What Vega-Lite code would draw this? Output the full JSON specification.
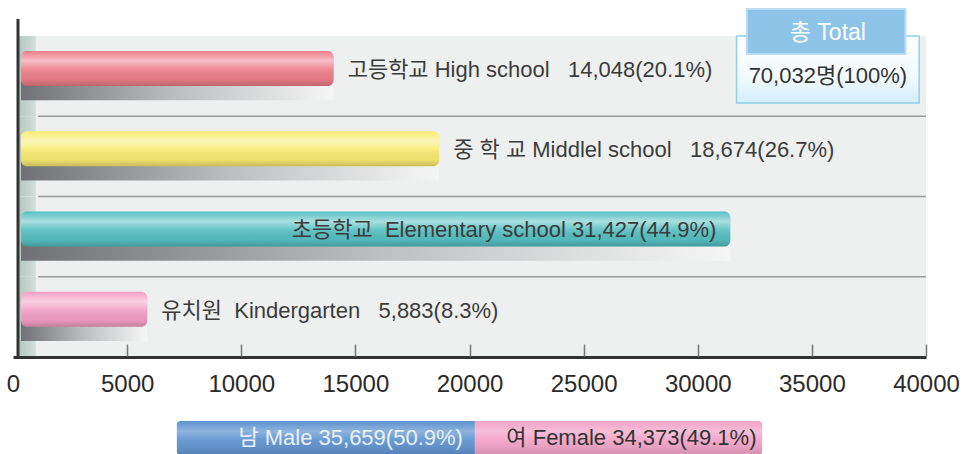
{
  "$schema": "https://vega.github.io/schema/vega-lite/v6.json",
  "padding": {"left": 6, "top": 8, "right": 0, "bottom": 0},
  "background": "white",
  "center": true,
  "bounds": "flush",
  "spacing": 64,
  "resolve": {"scale": {"color": "independent"}},
  "config": {"view": {"stroke": null}, "font": "Liberation Sans, Noto Sans CJK KR"},
  "datasets": {
    "school": [
      {"cat": "고등학교", "label": "고등학교 High school\u00a0\u00a0 14,048(20.1%)", "value": 14048},
      {"cat": "중학교", "label": "중 학 교 Middlel school\u00a0\u00a0 18,674(26.7%)", "value": 18674},
      {"cat": "초등학교", "label": "초등학교\u00a0\u00a0Elementary school 31,427(44.9%)", "value": 31427},
      {"cat": "유치원", "label": "유치원\u00a0\u00a0Kindergarten\u00a0\u00a0 5,883(8.3%)", "value": 5883}
    ],
    "gender": [
      {"g": "남 Male", "label": "남 Male 35,659(50.9%)", "value": 35659, "ord": 1},
      {"g": "여 Female", "label": "여 Female 34,373(49.1%)", "value": 34373, "ord": 2}
    ],
    "total": [
      {"cat": "고등학교", "head": "총 Total", "label": "70,032명(100%)", "value": 70032}
    ]
  },
  "vconcat": [
    {
      "width": 913,
      "height": 338,
      "resolve": {"axis": {"x": "independent"}},
      "layer": [
        {
          "data": {"name": "school"},
          "mark": {"type": "bar", "color": "#eeefef", "height": {"band": 1}},
          "encoding": {
            "y": {"field": "cat", "type": "nominal", "sort": ["고등학교", "중학교", "초등학교", "유치원"], "scale": {"paddingInner": 0, "paddingOuter": 0.106, "align": 1}, "axis": null},
            "x": {"datum": 920, "type": "quantitative", "scale": {"domain": [0, 40000], "nice": false},
              "axis": {"values": [0, 5000, 10000, 15000, 20000, 25000, 30000, 35000, 40000], "format": "d", "labelFlush": false, "labelFontSize": 24, "labelFont": "Liberation Sans", "labelColor": "#2a2a2a", "domainColor": "#333", "domainWidth": 3, "ticks": false, "labelPadding": 15, "grid": false, "title": null, "zindex": 1}},
            "x2": {"datum": 40000}
          }
        },
        {
          "data": {"name": "school"},
          "mark": {"type": "bar", "height": {"band": 1}, "color": {"gradient": "linear", "x1": 0, "y1": 0, "x2": 1, "y2": 0, "stops": [{"offset": 0, "color": "#b3c6c0"}, {"offset": 1, "color": "#d3dfdb"}]}},
          "encoding": {
            "y": {"field": "cat", "type": "nominal", "sort": ["고등학교", "중학교", "초등학교", "유치원"]},
            "x": {"datum": 219, "type": "quantitative",
              "axis": {"orient": "bottom", "offset": -13, "values": [5000, 10000, 15000, 20000, 25000, 30000, 35000, 40000], "labels": false, "domain": false, "ticks": true, "tickSize": 12, "tickColor": "#777", "tickWidth": 1.5, "grid": false, "title": null, "zindex": 1}},
            "x2": {"datum": 1000}
          }
        },
        {
          "data": {"name": "school"},
          "transform": [{"filter": "datum.cat !== '고등학교'"}],
          "mark": {"type": "rule", "color": "#9c9c9c", "strokeWidth": 1.5},
          "encoding": {
            "y": {"field": "cat", "type": "nominal", "sort": ["고등학교", "중학교", "초등학교", "유치원"], "bandPosition": 0},
            "x": {"datum": 1100, "type": "quantitative", "axis": null},
            "x2": {"datum": 40000}
          }
        },
        {
          "data": {"name": "total"},
          "mark": {"type": "rule", "color": "#333", "strokeWidth": 3},
          "encoding": {"x": {"datum": 219, "type": "quantitative", "axis": null}}
        },
        {
          "data": {"name": "school"},
          "mark": {"type": "bar", "height": 24, "yOffset": 12, "color": {"gradient": "linear", "x1": 0, "y1": 0, "x2": 1, "y2": 0, "stops": [{"offset": 0, "color": "#707174"}, {"offset": 0.5, "color": "#bdbec0"}, {"offset": 1, "color": "#f6f6f6"}]}},
          "encoding": {
            "y": {"field": "cat", "type": "nominal", "sort": ["고등학교", "중학교", "초등학교", "유치원"]},
            "x": {"field": "value", "type": "quantitative", "axis": null},
            "x2": {"datum": 350}
          }
        },
        {
          "data": {"name": "school"},
          "mark": {"type": "bar", "height": 35, "yOffset": -7.6, "cornerRadiusEnd": 6},
          "encoding": {
            "y": {"field": "cat", "type": "nominal", "sort": ["고등학교", "중학교", "초등학교", "유치원"]},
            "x": {"field": "value", "type": "quantitative", "axis": null},
            "x2": {"datum": 350},
            "color": {"field": "cat", "type": "nominal", "scale": {"domain": ["고등학교", "중학교", "초등학교", "유치원"], "range": ["#ee7f8a", "#f9ec72", "#56c0c1", "#f4a0c4"]}, "legend": null}
          }
        },
        {
          "data": {"name": "school"},
          "mark": {"type": "bar", "height": 35, "yOffset": -7.6, "cornerRadiusEnd": 6, "color": {"gradient": "linear", "x1": 0, "y1": 0, "x2": 0, "y2": 1, "stops": [{"offset": 0, "color": "rgba(255,255,255,0)"}, {"offset": 0.28, "color": "rgba(255,255,255,0.5)"}, {"offset": 0.5, "color": "rgba(255,255,255,0.12)"}, {"offset": 0.8, "color": "rgba(0,0,0,0.04)"}, {"offset": 1, "color": "rgba(0,0,0,0.2)"}]}},
          "encoding": {
            "y": {"field": "cat", "type": "nominal", "sort": ["고등학교", "중학교", "초등학교", "유치원"]},
            "x": {"field": "value", "type": "quantitative", "axis": null},
            "x2": {"datum": 350}
          }
        },
        {
          "data": {"name": "school"},
          "transform": [{"filter": "datum.cat !== '초등학교'"}],
          "mark": {"type": "text", "align": "left", "baseline": "middle", "dx": 14, "yOffset": -6, "fontSize": 22, "color": "#3c3c3c"},
          "encoding": {
            "y": {"field": "cat", "type": "nominal", "sort": ["고등학교", "중학교", "초등학교", "유치원"]},
            "x": {"field": "value", "type": "quantitative", "axis": null},
            "text": {"field": "label"}
          }
        },
        {
          "data": {"name": "school"},
          "transform": [{"filter": "datum.cat === '초등학교'"}],
          "mark": {"type": "text", "align": "right", "baseline": "middle", "dx": -14, "yOffset": -7, "fontSize": 22, "color": "#3c3c3c"},
          "encoding": {
            "y": {"field": "cat", "type": "nominal", "sort": ["고등학교", "중학교", "초등학교", "유치원"]},
            "x": {"field": "value", "type": "quantitative", "axis": null},
            "text": {"field": "label"}
          }
        },
        {
          "data": {"name": "total"},
          "mark": {"type": "bar", "height": 67, "yOffset": -6.6, "stroke": "#8fd0ee", "strokeWidth": 1.5, "color": {"gradient": "linear", "x1": 0, "y1": 0, "x2": 0, "y2": 1, "stops": [{"offset": 0, "color": "#ffffff"}, {"offset": 0.6, "color": "#f2fafe"}, {"offset": 1, "color": "#d2eefb"}]}},
          "encoding": {
            "y": {"field": "cat", "type": "nominal", "sort": ["고등학교", "중학교", "초등학교", "유치원"]},
            "x": {"datum": 31700, "type": "quantitative", "axis": null},
            "x2": {"datum": 39700}
          }
        },
        {
          "data": {"name": "total"},
          "mark": {"type": "bar", "height": 45, "yOffset": -44.6, "stroke": "#b9ddf3", "strokeWidth": 2, "color": "#8dc4e8"},
          "encoding": {
            "y": {"field": "cat", "type": "nominal", "sort": ["고등학교", "중학교", "초등학교", "유치원"]},
            "x": {"datum": 32150, "type": "quantitative", "axis": null},
            "x2": {"datum": 39100}
          }
        },
        {
          "data": {"name": "total"},
          "mark": {"type": "text", "align": "center", "baseline": "middle", "yOffset": -43, "fontSize": 23, "color": "#ffffff"},
          "encoding": {
            "y": {"field": "cat", "type": "nominal", "sort": ["고등학교", "중학교", "초등학교", "유치원"]},
            "x": {"datum": 35700, "type": "quantitative", "axis": null},
            "text": {"field": "head"}
          }
        },
        {
          "data": {"name": "total"},
          "mark": {"type": "text", "align": "center", "baseline": "middle", "yOffset": 0, "fontSize": 22, "color": "#333"},
          "encoding": {
            "y": {"field": "cat", "type": "nominal", "sort": ["고등학교", "중학교", "초등학교", "유치원"]},
            "x": {"datum": 35700, "type": "quantitative", "axis": null},
            "text": {"field": "label"}
          }
        }
      ]
    },
    {
      "width": 586,
      "height": 34,
      "data": {"name": "gender"},
      "layer": [
        {
          "mark": {"type": "bar", "cornerRadius": 4},
          "encoding": {
            "y": {"datum": "all", "type": "nominal", "axis": null, "scale": {"paddingInner": 0, "paddingOuter": 0}},
            "x": {"field": "value", "type": "quantitative", "stack": "zero", "scale": {"domain": [0, 70032], "nice": false}, "axis": null},
            "color": {"field": "g", "type": "nominal", "scale": {"domain": ["남 Male", "여 Female"], "range": ["#5e92cf", "#f2a2c6"]}, "legend": null},
            "order": {"field": "ord"}
          }
        },
        {
          "mark": {"type": "bar", "cornerRadius": 4, "color": {"gradient": "linear", "x1": 0, "y1": 0, "x2": 0, "y2": 1, "stops": [{"offset": 0, "color": "rgba(255,255,255,0)"}, {"offset": 0.3, "color": "rgba(255,255,255,0.3)"}, {"offset": 0.55, "color": "rgba(255,255,255,0.08)"}, {"offset": 1, "color": "rgba(0,0,0,0.12)"}]}},
          "encoding": {
            "y": {"datum": "all", "type": "nominal"},
            "x": {"field": "value", "type": "quantitative", "stack": "zero"},
            "detail": {"field": "g"},
            "order": {"field": "ord"}
          }
        },
        {
          "transform": [{"filter": "datum.ord === 1"}],
          "mark": {"type": "text", "align": "right", "baseline": "middle", "dx": -12, "fontSize": 22, "color": "#eaf1fa"},
          "encoding": {
            "y": {"datum": "all", "type": "nominal"},
            "x": {"field": "value", "type": "quantitative"},
            "text": {"field": "label"}
          }
        },
        {
          "transform": [{"filter": "datum.ord === 2"}],
          "mark": {"type": "text", "align": "right", "baseline": "middle", "dx": -6, "fontSize": 22, "color": "#333"},
          "encoding": {
            "y": {"datum": "all", "type": "nominal"},
            "x": {"datum": 70032, "type": "quantitative"},
            "text": {"field": "label"}
          }
        }
      ]
    }
  ]
}
